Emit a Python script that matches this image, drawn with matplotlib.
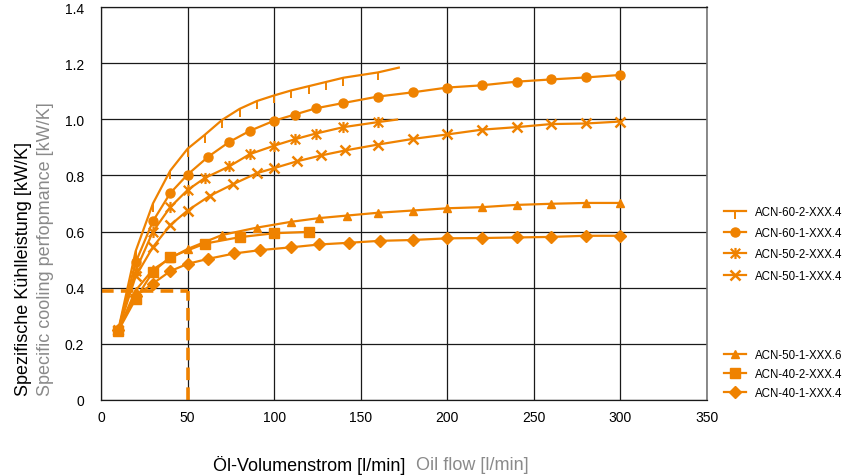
import matplotlib
matplotlib.use("Agg")
import matplotlib.pyplot as plt
from matplotlib.path import Path
from matplotlib import font_manager

# ---------------- data ----------------
flow_60_2 = [10, 20, 30, 40, 50, 60, 70, 80, 90, 100, 110, 120, 130, 140, 160, 172]
perf_60_2 = [0.25, 0.53, 0.70, 0.817, 0.895, 0.945, 0.998, 1.037, 1.065, 1.085, 1.103, 1.118, 1.133, 1.148, 1.167, 1.184]

flow_60_1 = [10, 20, 30, 40, 50, 62, 74, 86, 100, 112, 124, 140, 160, 180, 200, 220, 240, 260, 280, 300]
perf_60_1 = [0.25, 0.49, 0.637, 0.737, 0.803, 0.867, 0.919, 0.959, 0.995, 1.017, 1.039, 1.058, 1.081, 1.096, 1.113, 1.121, 1.134, 1.142, 1.149, 1.158]

flow_50_2 = [10, 20, 30, 40, 50, 60, 74, 86, 100, 112, 124, 140, 160, 171]
perf_50_2 = [0.25, 0.46, 0.60, 0.687, 0.748, 0.791, 0.832, 0.876, 0.906, 0.929, 0.949, 0.972, 0.990, 0.999]

flow_50_1 = [10, 20, 30, 40, 50, 63, 76, 90, 100, 113, 127, 141, 160, 180, 200, 220, 240, 260, 280, 300]
perf_50_1 = [0.25, 0.44, 0.545, 0.623, 0.675, 0.728, 0.768, 0.808, 0.826, 0.850, 0.871, 0.889, 0.910, 0.930, 0.946, 0.963, 0.972, 0.983, 0.985, 0.992]

flow_50_1_6 = [10, 20, 30, 40, 50, 70, 90, 110, 126, 142, 160, 180, 200, 220, 240, 260, 280, 300]
perf_50_1_6 = [0.25, 0.39, 0.465, 0.505, 0.538, 0.588, 0.614, 0.635, 0.648, 0.657, 0.667, 0.675, 0.683, 0.687, 0.695, 0.699, 0.702, 0.702]

flow_40_2 = [10, 20, 30, 40, 60, 80, 100, 120]
perf_40_2 = [0.247, 0.36, 0.457, 0.509, 0.557, 0.580, 0.594, 0.599]

flow_40_1 = [10, 20, 30, 40, 50, 62, 77, 92, 110, 126, 143, 161, 180, 200, 220, 240, 260, 280, 300]
perf_40_1 = [0.25, 0.37, 0.415, 0.459, 0.485, 0.503, 0.522, 0.534, 0.544, 0.554, 0.560, 0.567, 0.570, 0.576, 0.577, 0.579, 0.581, 0.585, 0.585]

labels_group1 = ["ACN-60-2-XXX.4", "ACN-60-1-XXX.4", "ACN-50-2-XXX.4", "ACN-50-1-XXX.4"]
labels_group2 = ["ACN-50-1-XXX.6", "ACN-40-2-XXX.4", "ACN-40-1-XXX.4"]

ref_flow = 50
ref_perf = 0.39

x_ticks = [0, 50, 100, 150, 200, 250, 300, 350]
y_ticks = [0, 0.2, 0.4, 0.6, 0.8, 1.0, 1.2, 1.4]
y_tick_labels = ["0", "0.2", "0.4", "0.6", "0.8", "1.0", "1.2", "1.4"]

# ---------------- style ----------------
names = {f.name for f in font_manager.fontManager.ttflist}
base = "Liberation Sans Narrow" if "Liberation Sans Narrow" in names else "Liberation Sans"
plt.rcParams['font.family'] = [base, 'DejaVu Sans']

ORANGE = '#EF8200'
GRAY = '#8a8a8a'

asterisk = Path([(0, -1), (0, 1), (-0.85, -0.85), (0.85, 0.85), (-0.85, 0.85), (0.85, -0.85)],
                [Path.MOVETO, Path.LINETO, Path.MOVETO, Path.LINETO, Path.MOVETO, Path.LINETO])

fig = plt.figure(figsize=(8.49, 4.77), dpi=100)
ax = fig.add_axes([101/849, 1 - 401/477, (707-101)/849, (401-8)/477])

lw = 1.6
h1, = ax.plot(flow_60_2, perf_60_2, color=ORANGE, lw=lw, marker=3, ms=6, mew=1.4,
              markevery=list(range(1, len(flow_60_2) - 1)), label=labels_group1[0])
h2, = ax.plot(flow_60_1, perf_60_1, color=ORANGE, lw=lw, marker='o', ms=6.5, label=labels_group1[1])
h3, = ax.plot(flow_50_2, perf_50_2, color=ORANGE, lw=lw, marker=asterisk, ms=8, mew=1.6,
              markevery=list(range(1, len(flow_50_2) - 1)), label=labels_group1[2])
h4, = ax.plot(flow_50_1, perf_50_1, color=ORANGE, lw=lw, marker='x', ms=7.5, mew=1.8, label=labels_group1[3])
h5, = ax.plot(flow_50_1_6, perf_50_1_6, color=ORANGE, lw=lw, marker='^', ms=6, label=labels_group2[0])
h6, = ax.plot(flow_40_2, perf_40_2, color=ORANGE, lw=lw, marker='s', ms=7.5, label=labels_group2[1])
h7, = ax.plot(flow_40_1, perf_40_1, color=ORANGE, lw=lw, marker='D', ms=6.5, label=labels_group2[2])

ax.plot([0, ref_flow], [ref_perf, ref_perf], color=ORANGE, lw=2.6, ls=(0, (3.5, 2)))
ax.plot([ref_flow, ref_flow], [0, ref_perf], color=ORANGE, lw=2.6, ls=(0, (3.5, 2)))

ax.set_xlim(0, 350)
ax.set_ylim(0, 1.4)
ax.set_xticks(x_ticks)
ax.set_yticks(y_ticks)
ax.set_yticklabels(y_tick_labels)
ax.tick_params(length=0, labelsize=10, pad=12, axis='y')
ax.tick_params(length=0, labelsize=10, pad=7, axis='x')
ax.grid(True, color='#1a1a1a', lw=0.9)
ax.set_axisbelow(True)
for s in ['left', 'bottom', 'top']:
    ax.spines[s].set_color('#1a1a1a')
    ax.spines[s].set_linewidth(0.9)
ax.spines['right'].set_color('#777777')
ax.spines['right'].set_linewidth(1.2)

leg1 = fig.legend(handles=[h1, h2, h3, h4], loc='upper left', bbox_to_anchor=(724/849, 1 - 207/477),
                  frameon=False, fontsize=8.3, handlelength=1.95, handletextpad=0.7, labelspacing=0.8,
                  borderaxespad=0, borderpad=0)
leg2 = fig.legend(handles=[h5, h6, h7], loc='upper left', bbox_to_anchor=(724/849, 1 - 350/477),
                  frameon=False, fontsize=8.3, handlelength=1.95, handletextpad=0.7, labelspacing=0.62,
                  borderaxespad=0, borderpad=0)

fig.text(24/849, 1 - 396/477, "Spezifische Kühlleistung [kW/K]", rotation=90, rotation_mode='anchor',
         ha='left', va='center', fontsize=13, color='black')
fig.text(45/849, 1 - 396/477, "Specific cooling perfopmance [kW/K]", rotation=90, rotation_mode='anchor',
         ha='left', va='center', fontsize=13, color=GRAY)

fig.text(213/849, 1 - 466/477, "Öl-Volumenstrom [l/min]", ha='left', va='center', fontsize=13, color='black')
fig.text(416/849, 1 - 466/477, "Oil flow [l/min]", ha='left', va='center', fontsize=13, color=GRAY)

fig.savefig("out.png", dpi=100)
